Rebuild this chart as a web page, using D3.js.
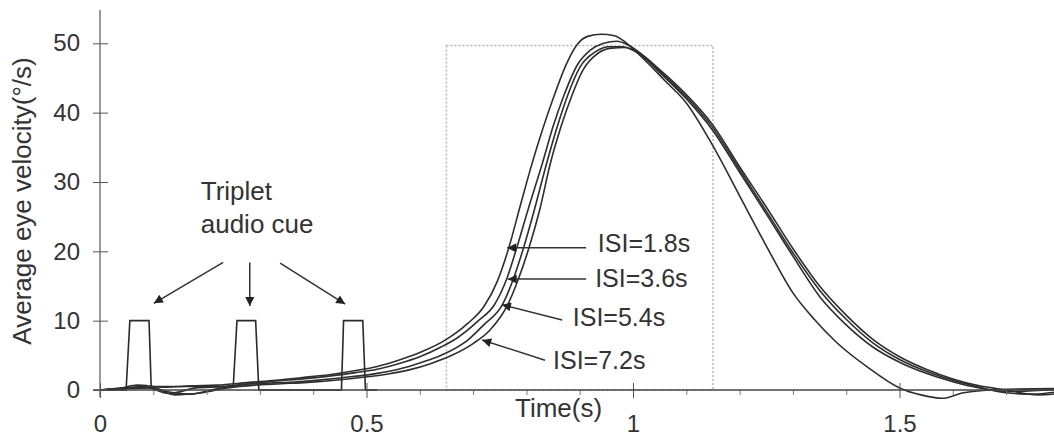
<!DOCTYPE html>
<html>
<head>
<meta charset="utf-8">
<script src="https://cdn.jsdelivr.net/npm/d3@7"></script>
<style>
  body { margin: 0; background: #fff; }
  svg { display: block; }
  text { font-family: "Liberation Sans", Arial, sans-serif; fill: #333; }
</style>
</head>
<body>
<div id="chart"></div>
<script>
// tick values / labels
const xTicks = [0, 0.5, 1, 1.5];
const xTickLabels = ["0", "0.5", "1", "1.5"];
const xMinorTicks = [0.1, 0.2, 0.3, 0.4, 0.6, 0.7, 0.8, 0.9, 1.1, 1.2, 1.3, 1.4, 1.6, 1.7];
const yTicks = [0, 10, 20, 30, 40, 50];

// averaged traces, [time (s), velocity (deg/s)]
const isi18 = [[0,0],[0.04,0.3],[0.07,0.7],[0.12,0.4],[0.17,0.6],[0.22,0.7],[0.28,1.1],[0.33,1.4],[0.38,1.8],[0.43,2.2],[0.48,2.8],[0.52,3.4],[0.56,4.3],[0.6,5.4],[0.65,7.3],[0.69,9.6],[0.72,12.0],[0.745,15.6],[0.765,20.0],[0.79,27.0],[0.81,32.5],[0.83,37.5],[0.85,42.0],[0.875,47.0],[0.895,49.8],[0.915,51.0],[0.94,51.3],[0.965,51.1],[0.985,50.2],[1.0,49.2],[1.03,47.0],[1.06,44.6],[1.1,41.4],[1.15,35.2],[1.2,28.0],[1.25,20.8],[1.3,14.0],[1.34,10.2],[1.38,7.0],[1.44,3.3],[1.5,0.3],[1.54,-0.7],[1.58,-1.2],[1.62,-0.4],[1.7,0.1],[1.8,0.2]];
const isi36 = [[0,0],[0.04,0.2],[0.08,0.5],[0.13,-0.5],[0.18,0.3],[0.23,0.5],[0.28,0.9],[0.33,1.3],[0.38,1.6],[0.43,2.0],[0.48,2.5],[0.52,3.0],[0.56,3.8],[0.6,4.8],[0.64,6.2],[0.67,7.5],[0.71,10.0],[0.74,12.3],[0.763,16.0],[0.783,20.8],[0.805,26.5],[0.83,32.7],[0.85,38.0],[0.87,42.4],[0.895,46.8],[0.92,49.0],[0.945,50.0],[0.97,50.3],[0.99,49.8],[1.01,48.8],[1.05,45.8],[1.1,42.0],[1.15,37.4],[1.2,31.4],[1.25,25.4],[1.3,19.3],[1.35,13.5],[1.4,9.4],[1.45,6.2],[1.5,4.0],[1.55,2.4],[1.6,1.2],[1.65,0.3],[1.7,-0.2],[1.8,0.1]];
const isi54 = [[0,0],[0.05,0.3],[0.09,0.4],[0.13,-0.3],[0.17,-0.6],[0.22,0.2],[0.27,0.8],[0.32,1.0],[0.37,1.2],[0.42,1.5],[0.47,1.9],[0.52,2.4],[0.56,3.0],[0.6,3.9],[0.64,5.0],[0.69,7.2],[0.72,9.4],[0.755,12.3],[0.775,15.9],[0.795,20.6],[0.815,26.0],[0.838,32.7],[0.86,38.5],[0.877,42.4],[0.9,46.5],[0.93,48.8],[0.955,49.5],[0.98,49.5],[1.0,49.0],[1.05,46.0],[1.1,42.3],[1.15,37.8],[1.2,31.8],[1.25,25.8],[1.3,19.8],[1.35,14.4],[1.4,10.2],[1.45,6.8],[1.5,4.4],[1.55,2.7],[1.6,1.4],[1.65,0.4],[1.7,-0.4],[1.75,-0.6],[1.8,-0.2]];
const isi72 = [[0,0],[0.05,0.2],[0.1,0.3],[0.14,-0.7],[0.19,-0.4],[0.24,0.3],[0.29,0.7],[0.34,0.9],[0.39,1.1],[0.44,1.4],[0.49,1.8],[0.54,2.3],[0.58,2.9],[0.62,3.8],[0.66,5.0],[0.7,6.7],[0.73,8.5],[0.765,12.3],[0.785,16.0],[0.806,20.8],[0.825,26.0],[0.845,32.7],[0.865,38.0],[0.885,42.4],[0.905,46.0],[0.935,48.6],[0.96,49.3],[0.985,49.4],[1.01,48.7],[1.05,46.2],[1.1,42.6],[1.15,38.2],[1.2,32.2],[1.25,26.4],[1.3,20.4],[1.35,15.0],[1.4,10.8],[1.45,7.3],[1.5,4.8],[1.55,3.0],[1.6,1.6],[1.65,0.6],[1.7,0.0],[1.76,-0.7],[1.8,-0.5]];

// the audio cue (three pulses)
const cue = [[0,0],[0.049,0],[0.056,10],[0.092,10],[0.096,0.5],[0.25,0.5],[0.257,10],[0.292,10],[0.298,0],[0.453,0],[0.457,10],[0.493,10],[0.498,0],[0.52,0]];

// analysis window
const windowX = [0.65, 1.15];
const windowY = [0, 49.7];

// ISI labels: text anchor point and arrow (tail -> head), in data units
const isiLabels = ["ISI=1.8s", "ISI=3.6s", "ISI=5.4s", "ISI=7.2s"];
const isiTextPos = [[0.934, 19.9], [0.929, 14.8], [0.887, 9.3], [0.85, 3.0]];
const isiArrows = [[[0.912, 20.5], [0.764, 20.5]], [[0.912, 16.0], [0.765, 16.0]], [[0.867, 10.1], [0.754, 12.3]], [[0.835, 4.3], [0.717, 7.2]]];

const cueLabel = ["Triplet", "audio cue"];
const cueTextPos = [[0.189, 27.4], [0.189, 22.6]];
const cueArrows = [[[0.231, 18.4], [0.101, 12.5]], [[0.281, 18.4], [0.281, 12.1]], [[0.338, 18.3], [0.46, 12.4]]];

const w = 1054;
const h = 439;

const x = d3.scaleLinear().domain([0, 1.8]).range([100, 1059.4]);
const y = d3.scaleLinear().domain([0, 50]).range([390, 43.3]);

const svg = d3.select('#chart')
              .append('svg')
              .attr('width', w)
              .attr('height', h);

svg.append('rect').attr('width', w).attr('height', h).attr('fill', '#fff');

const defs = svg.append('defs');
defs.append('marker')
    .attr('id', 'arr')
    .attr('viewBox', '0 0 10 10')
    .attr('refX', 10).attr('refY', 5)
    .attr('markerWidth', 13).attr('markerHeight', 9)
    .attr('markerUnits', 'userSpaceOnUse')
    .attr('orient', 'auto')
    .append('path').attr('d', 'M0,0L10,5L0,10z').attr('fill', '#222');

// window box
svg.append('rect')
   .attr('x', x(windowX[0]))
   .attr('y', y(windowY[1]))
   .attr('width', x(windowX[1]) - x(windowX[0]))
   .attr('height', y(windowY[0]) - y(windowY[1]))
   .attr('fill', 'none')
   .attr('stroke', '#b5b5b5')
   .attr('stroke-width', 1.5)
   .attr('stroke-dasharray', '2,2');

// traces
const line = d3.line().x(d => x(d[0])).y(d => y(d[1]));
svg.append('path')
   .attr('d', line(cue))
   .attr('fill', 'none')
   .attr('stroke', '#2a2a2a')
   .attr('stroke-width', 1.6);

const smooth = d3.line().x(d => x(d[0])).y(d => y(d[1])).curve(d3.curveMonotoneX);
svg.selectAll('.trace')
   .data([isi18, isi36, isi54, isi72])
   .enter()
   .append('path')
   .attr('class', 'trace')
   .attr('d', d => smooth(d))
   .attr('fill', 'none')
   .attr('stroke', '#2e2e2e')
   .attr('stroke-width', 1.6);

// x axis
const gx = svg.append('g')
   .attr('transform', 'translate(0,' + y(0) + ')')
   .call(d3.axisBottom(x).tickValues(xTicks).tickFormat((d, i) => xTickLabels[i]).tickSize(8).tickSizeOuter(0));
gx.select('.domain').remove();
gx.selectAll('.tick line').attr('y1', -7).attr('y2', 8).attr('stroke', '#555');
gx.selectAll('.tick text')
  .attr('y', 42).attr('dy', 0)
  .attr('font-size', 24)
  .attr('font-family', '"Liberation Sans", Arial, sans-serif')
  .attr('fill', '#333');

const gxm = svg.append('g')
   .attr('transform', 'translate(0,' + y(0) + ')')
   .call(d3.axisBottom(x).tickValues(xMinorTicks).tickFormat('').tickSize(5).tickSizeOuter(0));
gxm.select('.domain').remove();
gxm.selectAll('.tick line').attr('stroke', '#777');

svg.append('line')
   .attr('x1', 93).attr('x2', w)
   .attr('y1', y(0)).attr('y2', y(0))
   .attr('stroke', '#444').attr('stroke-width', 1.4);

// y axis
const gy = svg.append('g')
   .attr('transform', 'translate(' + x(0) + ',0)')
   .call(d3.axisLeft(y).tickValues(yTicks).tickSize(0).tickPadding(20));
gy.select('.domain').remove();
gy.selectAll('.tick').append('line').attr('x1', -7).attr('x2', 8).attr('stroke', '#555');
gy.selectAll('.tick text')
  .attr('font-size', 24)
  .attr('font-family', '"Liberation Sans", Arial, sans-serif')
  .attr('fill', '#333');

svg.append('line')
   .attr('x1', x(0)).attr('x2', x(0))
   .attr('y1', y(-1)).attr('y2', y(54.8))
   .attr('stroke', '#555').attr('stroke-width', 1.2);

// axis titles
svg.append('text')
   .attr('transform', 'translate(31,' + 201 + ') rotate(-90)')
   .attr('text-anchor', 'middle')
   .attr('font-size', 26)
   .text('Average eye velocity(°/s)');

svg.append('text')
   .attr('x', 515).attr('y', 417)
   .attr('font-size', 26)
   .text('Time(s)');

// annotations
svg.selectAll('.cue-text')
   .data(cueLabel)
   .enter()
   .append('text')
   .attr('class', 'cue-text')
   .attr('x', (d, i) => x(cueTextPos[i][0]))
   .attr('y', (d, i) => y(cueTextPos[i][1]))
   .attr('font-size', 26)
   .text(d => d);

svg.selectAll('.cue-arrow')
   .data(cueArrows)
   .enter()
   .append('line')
   .attr('class', 'cue-arrow')
   .attr('x1', d => x(d[0][0])).attr('y1', d => y(d[0][1]))
   .attr('x2', d => x(d[1][0])).attr('y2', d => y(d[1][1]))
   .attr('stroke', '#333').attr('stroke-width', 1.5)
   .attr('marker-end', 'url(#arr)');

svg.selectAll('.isi-text')
   .data(isiLabels)
   .enter()
   .append('text')
   .attr('class', 'isi-text')
   .attr('x', (d, i) => x(isiTextPos[i][0]))
   .attr('y', (d, i) => y(isiTextPos[i][1]))
   .attr('font-size', 25)
   .text(d => d);

svg.selectAll('.isi-arrow')
   .data(isiArrows)
   .enter()
   .append('line')
   .attr('class', 'isi-arrow')
   .attr('x1', d => x(d[0][0])).attr('y1', d => y(d[0][1]))
   .attr('x2', d => x(d[1][0])).attr('y2', d => y(d[1][1]))
   .attr('stroke', '#333').attr('stroke-width', 1.5)
   .attr('marker-end', 'url(#arr)');
</script>
</body>
</html>
